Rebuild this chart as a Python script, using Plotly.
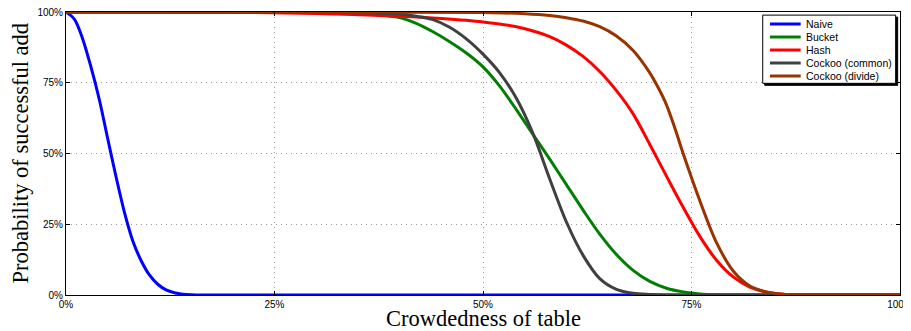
import plotly.graph_objects as go

# Crowdedness of table (fraction) vs probability of successful add
naive_x = [0, 0.01, 0.02, 0.03, 0.04, 0.05, 0.06, 0.07, 0.08, 0.09, 0.10, 0.11, 0.12, 0.13, 0.14, 0.15, 0.17, 0.2, 1.0]
naive_y = [1.0, 0.975, 0.905, 0.805, 0.69, 0.553, 0.418, 0.293, 0.192, 0.122, 0.071, 0.038, 0.018, 0.008, 0.003, 0.001, 0.0, 0.0, 0.0]

bucket_x = [0, 0.30, 0.35, 0.38, 0.40, 0.42, 0.44, 0.46, 0.48, 0.50, 0.52, 0.54, 0.56, 0.58, 0.60, 0.62, 0.64, 0.66, 0.68, 0.70, 0.72, 0.74, 0.76, 0.78, 0.80, 1.0]
bucket_y = [1.0, 0.999, 0.996, 0.989, 0.980, 0.960, 0.930, 0.895, 0.855, 0.806, 0.738, 0.655, 0.567, 0.48, 0.39, 0.30, 0.215, 0.143, 0.087, 0.048, 0.024, 0.011, 0.004, 0.001, 0.0, 0.0]

hash_x = [0, 0.20, 0.30, 0.40, 0.45, 0.50, 0.54, 0.56, 0.58, 0.60, 0.62, 0.64, 0.66, 0.68, 0.70, 0.72, 0.74, 0.76, 0.78, 0.80, 0.82, 0.84, 0.86, 0.88, 0.90, 1.0]
hash_y = [1.0, 0.999, 0.995, 0.985, 0.977, 0.965, 0.948, 0.933, 0.913, 0.883, 0.843, 0.79, 0.722, 0.640, 0.532, 0.42, 0.31, 0.207, 0.123, 0.064, 0.028, 0.010, 0.003, 0.001, 0.0, 0.0]

common_x = [0, 0.30, 0.35, 0.40, 0.42, 0.44, 0.46, 0.48, 0.50, 0.52, 0.54, 0.56, 0.58, 0.60, 0.62, 0.64, 0.66, 0.68, 0.70, 0.72, 1.0]
common_y = [1.0, 0.999, 0.997, 0.993, 0.985, 0.973, 0.946, 0.905, 0.851, 0.785, 0.695, 0.57, 0.41, 0.258, 0.14, 0.058, 0.02, 0.006, 0.002, 0.0, 0.0]

divide_x = [0, 0.40, 0.50, 0.55, 0.58, 0.60, 0.62, 0.64, 0.66, 0.68, 0.70, 0.71, 0.72, 0.73, 0.74, 0.76, 0.78, 0.80, 0.82, 0.84, 0.86, 0.88, 0.90, 1.0]
divide_y = [1.0, 0.9995, 0.998, 0.994, 0.988, 0.98, 0.968, 0.948, 0.915, 0.864, 0.785, 0.733, 0.672, 0.59, 0.50, 0.333, 0.185, 0.085, 0.032, 0.011, 0.003, 0.001, 0.0, 0.0]

names = ["Naive", "Bucket", "Hash", "Cockoo (common)", "Cockoo (divide)"]
xs_all = [naive_x, bucket_x, hash_x, common_x, divide_x]
ys_all = [naive_y, bucket_y, hash_y, common_y, divide_y]
colors = ["#0000FF", "#007F00", "#FF0000", "#404040", "#993300"]

tick_vals = [0, 0.25, 0.5, 0.75, 1.0]
tick_text = ["0%", "25%", "50%", "75%", "100%"]

fig = go.Figure()
for name, xs, ys, col in zip(names, xs_all, ys_all, colors):
    fig.add_trace(go.Scatter(
        x=xs, y=ys, mode="lines", name=name,
        line=dict(color=col, width=3, shape="spline", smoothing=0.9),
        cliponaxis=False, showlegend=False,
    ))

axis_common = dict(
    range=[0, 1], tickvals=tick_vals, ticktext=tick_text,
    showline=True, linecolor="black", linewidth=1, mirror="ticks",
    ticks="inside", ticklen=4, tickcolor="black",
    showgrid=True, gridcolor="#9a9a9a", griddash="1px,4px", gridwidth=1,
    zeroline=False, automargin=False, ticklabeloverflow="allow",
    tickfont=dict(family="Liberation Sans, Arial", size=10, color="black"),
)

# Legend box drawn in plot-area coordinates (MATLAB-style legend)
box_x0, box_x1, box_y0, box_y1 = 0.8354, 0.9948, 0.748, 0.989
px_x, px_y = 1 / 834, 1 / 283
shapes = [
    dict(type="rect", xref="paper", yref="paper", x0=box_x0 + 2 * px_x, x1=box_x1 + 2 * px_x,
         y0=box_y0 - 2 * px_y, y1=box_y1 - 2 * px_y, line=dict(color="black", width=1),
         fillcolor="black", layer="above"),
    dict(type="rect", xref="paper", yref="paper", x0=box_x0, x1=box_x1,
         y0=box_y0, y1=box_y1, line=dict(color="black", width=1),
         fillcolor="white", layer="above"),
]
annotations = []
for i, (name, col) in enumerate(zip(names, colors)):
    yy = (295 - (24 + 13 * i)) / 283
    shapes.append(dict(type="line", xref="paper", yref="paper", x0=0.8441, x1=0.8809,
                       y0=yy, y1=yy, line=dict(color=col, width=3), layer="above"))
    annotations.append(dict(xref="paper", yref="paper", x=0.8853, y=yy, text=name,
                            showarrow=False, xanchor="left", yanchor="middle",
                            font=dict(family="Liberation Sans, Arial", size=10.5, color="black")))

annotations.append(dict(xref="paper", yref="paper", x=0.5, y=(295 - 318.5) / 283,
                        text="Crowdedness of table", showarrow=False,
                        xanchor="center", yanchor="middle",
                        font=dict(family="Liberation Serif, serif", size=22.5, color="black")))
annotations.append(dict(xref="paper", yref="paper", x=(20 - 66) / 834, y=0.5,
                        text="Probability of successful add", showarrow=False, textangle=-90,
                        xanchor="center", yanchor="middle",
                        font=dict(family="Liberation Serif, serif", size=22.5, color="black")))

# The page body adds an 8px offset, so the figure is 8px smaller and margins shift.
fig.update_layout(
    width=903, height=323,
    margin=dict(l=58, r=11, t=4, b=36),
    paper_bgcolor="white", plot_bgcolor="white",
    xaxis=axis_common, yaxis=axis_common,
    shapes=shapes, annotations=annotations,
    showlegend=False,
)

fig.write_html("out.html")
